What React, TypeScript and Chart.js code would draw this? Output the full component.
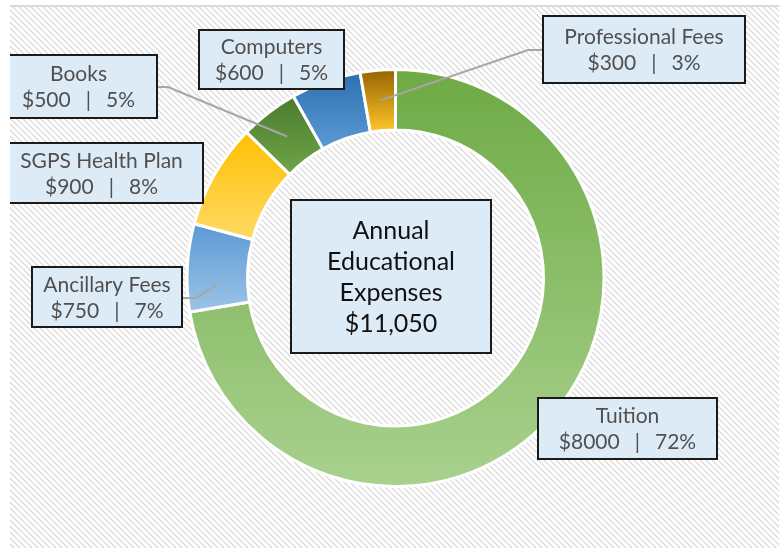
import React, { useEffect, useRef } from 'react';
import { Chart, registerables } from 'chart.js';

Chart.register(...registerables);

// ---------- data ----------
const categories = ['Tuition', 'Ancillary Fees', 'SGPS Health Plan', 'Books', 'Computers', 'Professional Fees'];
const amounts = [8000, 750, 900, 500, 600, 300];
const centerTitle = ['Annual', 'Educational', 'Expenses'];

// ---------- styles ----------
const colorTop = ['#6EAA45', '#5B9BD5', '#FFC000', '#4B7A2E', '#2E6FB0', '#966400'];
const colorBottom = ['#A9D18E', '#9DC3E6', '#FFD966', '#6FA548', '#5B9BD5', '#FFC62A'];
const CUTOUT = 0.71;
const BORDER = 3;
const FONT = 'Lato, "Open Sans", sans-serif';

// annotation layout (label boxes + leader bends), index aligned with categories
const labelLayout: any[] = [
  { x: 538, y: 398, w: 179, h: 61 },
  { x: 32, y: 267, w: 150, h: 60, frac: 0.3, bends: [[196, 298], [182, 298]] },
  { x: 0, y: 143, w: 203, h: 60 },
  { x: 0, y: 55, w: 157, h: 63, frac: 0.5, bends: [[168, 87], [157, 87]] },
  { x: 199, y: 30, w: 145, h: 59 },
  { x: 543, y: 16, w: 202, h: 67, frac: 0.5, bends: [[528, 50], [543, 50]] },
];
const centerBox = { x: 291, y: 200, w: 200, h: 153 };

const total = amounts.reduce((a, b) => a + b, 0);

function geom(area: any) {
  const cx = (area.left + area.right) / 2;
  const cy = (area.top + area.bottom) / 2;
  const R = (Math.min(area.right - area.left, area.bottom - area.top) - BORDER) / 2;
  return { cx, cy, R, r: R * CUTOUT };
}

function sliceAngles(i: number) {
  let cum = 0;
  for (let k = 0; k < i; k++) cum += amounts[k];
  return [(cum / total) * Math.PI * 2, ((cum + amounts[i]) / total) * Math.PI * 2];
}

function sliceYRange(area: any, i: number) {
  const { cx, cy, R, r } = geom(area);
  const [a0, a1] = sliceAngles(i);
  let yMin = Infinity, yMax = -Infinity;
  for (let s = 0; s <= 80; s++) {
    const a = a0 + ((a1 - a0) * s) / 80;
    for (const rad of [r, R]) {
      const y = cy - rad * Math.cos(a);
      yMin = Math.min(yMin, y);
      yMax = Math.max(yMax, y);
    }
  }
  return [yMin, yMax];
}

let patternCache: CanvasPattern | null = null;
function getPattern(ctx: CanvasRenderingContext2D) {
  if (patternCache) return patternCache;
  const p = 6;
  const c = document.createElement('canvas');
  c.width = p;
  c.height = p;
  const t = c.getContext('2d')!;
  const img = t.createImageData(p, p);
  for (let y = 0; y < p; y++) {
    for (let x = 0; x < p; x++) {
      const m = (((x - y) % p) + p) % p;
      let v = 255;
      if (m === 0) v = 220;
      else if (m === 1 || m === p - 1) v = 238;
      const o = (y * p + x) * 4;
      img.data[o] = v;
      img.data[o + 1] = v;
      img.data[o + 2] = v;
      img.data[o + 3] = 255;
    }
  }
  t.putImageData(img, 0, 0);
  patternCache = ctx.createPattern(c, 'repeat');
  return patternCache;
}

const bgPlugin = {
  id: 'bgPlugin',
  beforeDraw(chart: any) {
    const ctx = chart.ctx as CanvasRenderingContext2D;
    ctx.save();
    ctx.fillStyle = '#ffffff';
    ctx.fillRect(0, 0, chart.width, chart.height);
    ctx.fillStyle = getPattern(ctx) as any;
    ctx.fillRect(10, 7, 769, 541);
    ctx.fillStyle = '#dadada';
    ctx.fillRect(10, 5, 769, 2);
    ctx.restore();
  },
};

function drawBox(ctx: CanvasRenderingContext2D, b: any) {
  ctx.fillStyle = '#DDEBF7';
  ctx.fillRect(b.x, b.y, b.w, b.h);
  ctx.strokeStyle = '#1a1a1a';
  ctx.lineWidth = 2;
  ctx.strokeRect(b.x, b.y, b.w, b.h);
}

const labelPlugin = {
  id: 'labelPlugin',
  afterDatasetsDraw(chart: any) {
    const ctx = chart.ctx as CanvasRenderingContext2D;
    const area = chart.chartArea;
    const { cx, cy, R, r } = geom(area);
    ctx.save();
    ctx.beginPath();
    ctx.rect(10, 0, 769, 550);
    ctx.clip();

    // leader lines
    ctx.strokeStyle = '#A6A6A6';
    ctx.lineWidth = 2;
    labelLayout.forEach((L, i) => {
      if (!L.bends) return;
      const [a0, a1] = sliceAngles(i);
      const a = a0 + (a1 - a0) * L.frac;
      const rm = (R + r) / 2;
      ctx.beginPath();
      ctx.moveTo(cx + rm * Math.sin(a), cy - rm * Math.cos(a));
      L.bends.forEach((p: number[]) => ctx.lineTo(p[0], p[1]));
      ctx.stroke();
    });

    // label boxes
    const fs = 21;
    const gap = 15;
    labelLayout.forEach((L, i) => {
      drawBox(ctx, L);
      const mx = L.x + L.w / 2;
      const my = L.y + L.h / 2;
      const cap = fs * 0.72;
      ctx.fillStyle = '#505050';
      ctx.font = `${fs}px ${FONT}`;
      ctx.textBaseline = 'alphabetic';
      ctx.textAlign = 'center';
      ctx.fillText(categories[i], mx, my - 13 + cap / 2);
      const left = `$${amounts[i]}`;
      const right = `${Math.round((amounts[i] / total) * 100)}%`;
      const wl = ctx.measureText(left).width;
      const wp = ctx.measureText('|').width;
      const wr = ctx.measureText(right).width;
      const tw = wl + wp + wr + gap * 2;
      let x = mx - tw / 2;
      const y2 = my + 13 + cap / 2;
      ctx.textAlign = 'left';
      ctx.fillText(left, x, y2);
      x += wl + gap;
      ctx.fillText('|', x, y2);
      x += wp + gap;
      ctx.fillText(right, x, y2);
    });

    // center box
    drawBox(ctx, centerBox);
    const cfs = 25;
    ctx.fillStyle = '#111111';
    ctx.font = `${cfs}px ${FONT}`;
    ctx.textAlign = 'center';
    const lines = [...centerTitle, `$${total.toLocaleString('en-US')}`];
    const mx = centerBox.x + centerBox.w / 2;
    const my = centerBox.y + centerBox.h / 2;
    const ls = 31;
    lines.forEach((t, k) => {
      const y = my + (k - (lines.length - 1) / 2) * ls + (cfs * 0.72) / 2;
      ctx.fillText(t, mx, y);
    });
    ctx.restore();
  },
};

export default function App() {
  const ref = useRef<HTMLCanvasElement | null>(null);
  useEffect(() => {
    if (!ref.current) return;
    const chart = new Chart(ref.current, {
      type: 'doughnut',
      data: {
        labels: categories,
        datasets: [
          {
            data: amounts,
            backgroundColor: (c: any) => {
              const i = c.dataIndex;
              const area = c.chart.chartArea;
              if (!area || i === undefined) return colorTop[i ?? 0];
              const [y0, y1] = sliceYRange(area, i);
              const g = c.chart.ctx.createLinearGradient(0, y0, 0, y1);
              g.addColorStop(0, colorTop[i]);
              g.addColorStop(1, colorBottom[i]);
              return g;
            },
            borderColor: '#ffffff',
            borderWidth: BORDER,
          },
        ],
      },
      options: {
        responsive: false,
        animation: false,
        devicePixelRatio: 1,
        events: [],
        cutout: `${CUTOUT * 100}%`,
        layout: { padding: { left: 185, right: 177, top: 68, bottom: 62 } },
        plugins: { legend: { display: false }, tooltip: { enabled: false } },
      },
      plugins: [bgPlugin, labelPlugin],
    });
    return () => chart.destroy();
  }, []);
  return (
    <div style={{ position: 'absolute', left: 0, top: 0, width: 783, height: 550 }}>
      <canvas ref={ref} width={783} height={550} style={{ display: 'block' }} />
    </div>
  );
}
